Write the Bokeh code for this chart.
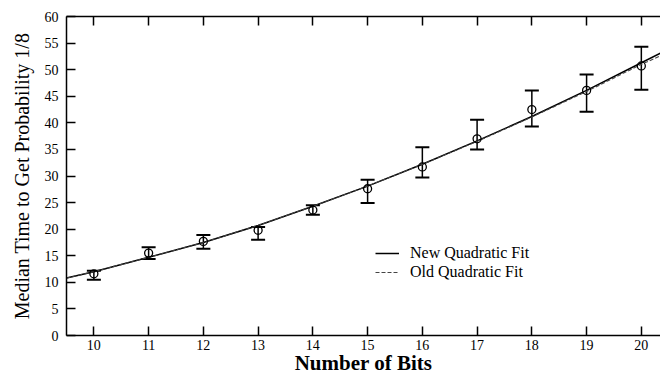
from bokeh.plotting import figure
from bokeh.models import (Range1d, FixedTicker, LinearAxis, Whisker, TeeHead,
                          ColumnDataSource, Legend, LegendItem)
from bokeh.embed import file_html
from bokeh.resources import INLINE

# data
bits = [10, 11, 12, 13, 14, 15, 16, 17, 18, 19, 20]
median_time = [11.6, 15.5, 17.7, 19.8, 23.6, 27.6, 31.7, 37.0, 42.5, 46.1, 50.7]
err_upper = [12.2, 16.6, 18.9, 20.4, 24.5, 29.3, 35.4, 40.6, 46.1, 49.1, 54.3]
err_lower = [10.5, 14.4, 16.3, 18.0, 22.7, 24.9, 29.7, 35.0, 39.3, 42.1, 46.2]

fit_x = [9.5, 10, 11, 12, 13, 14, 15, 16, 17, 18, 19, 20, 20.35]
new_fit = [10.8, 12.0, 14.7, 17.5, 20.7, 24.3, 28.1, 32.2, 36.6, 41.2, 46.1, 51.3, 53.1]
old_fit = [10.8, 12.0, 14.7, 17.5, 20.7, 24.3, 28.1, 32.2, 36.5, 41.1, 45.9, 51.0, 52.6]

x_ticks = list(range(10, 21))
y_ticks = list(range(0, 61, 5))

FONT = "Liberation Serif"

p = figure(width=660, height=377, output_backend="svg", toolbar_location=None,
           x_range=Range1d(9.5, 20.35), y_range=Range1d(0, 60),
           min_border_left=66, min_border_right=0, min_border_top=16,
           min_border_bottom=42, x_axis_location=None, y_axis_location=None)
p.outline_line_color = None
p.grid.visible = False
p.background_fill_color = "white"

def style(ax):
    ax.major_tick_in = 9
    ax.major_tick_out = 0
    ax.minor_tick_line_color = None
    ax.axis_line_width = 1.5
    ax.axis_line_color = "black"
    ax.major_tick_line_width = 1.5
    ax.major_tick_line_color = "black"
    ax.major_label_text_font = FONT
    ax.major_label_text_color = "black"
    ax.major_label_text_font_size = "14px"
    ax.axis_label_text_font = FONT
    ax.axis_label_text_color = "black"

xa = LinearAxis(ticker=FixedTicker(ticks=x_ticks), axis_label="Number of Bits")
style(xa)
xa.major_label_standoff = 4
xa.axis_label_standoff = -2
xa.axis_label_text_font_size = "21px"
xa.axis_label_text_font_style = "bold"
p.add_layout(xa, "below")

ya = LinearAxis(ticker=FixedTicker(ticks=y_ticks),
                axis_label="Median Time to Get Probability 1/8")
style(ya)
ya.major_label_standoff = 8
ya.axis_label_standoff = 9
ya.axis_label_text_font_size = "20px"
ya.axis_label_text_font_style = "normal"
p.add_layout(ya, "left")

ta = LinearAxis(ticker=FixedTicker(ticks=x_ticks))
style(ta)
ta.major_label_overrides = {t: "" for t in x_ticks}
ta.major_label_standoff = 0
p.add_layout(ta, "above")

# fits
r_new = p.line(fit_x, new_fit, line_color="black", line_width=1.5)
r_old = p.line(fit_x, old_fit, line_color="#444444", line_width=1.1, line_dash="4 2")

# error bars
src = ColumnDataSource(dict(x=bits, y=median_time, upper=err_upper, lower=err_lower))
wh = Whisker(source=src, base="x", upper="upper", lower="lower",
             line_color="black", line_width=1.5,
             upper_head=TeeHead(size=14, line_width=2, line_color="black"),
             lower_head=TeeHead(size=14, line_width=2, line_color="black"))
p.add_layout(wh)
p.scatter("x", "y", source=src, marker="circle", size=8, fill_alpha=0,
          line_color="black", line_width=1.3)

def make_legend(label, renderer, loc):
    lg = Legend(items=[LegendItem(label=label, renderers=[renderer])], location=loc)
    lg.border_line_color = None
    lg.background_fill_alpha = 0
    lg.padding = 0
    lg.margin = 0
    lg.spacing = 0
    lg.glyph_width = 24
    lg.glyph_height = 14
    lg.label_height = 14
    lg.label_standoff = 11
    lg.label_text_font = FONT
    lg.label_text_font_size = "16px"
    lg.label_text_color = "black"
    p.add_layout(lg, "center")

make_legend("New Quadratic Fit", r_new, (309, 73))
make_legend("Old Quadratic Fit", r_old, (309, 54))

open("out.html", "w").write(file_html(p, INLINE))
